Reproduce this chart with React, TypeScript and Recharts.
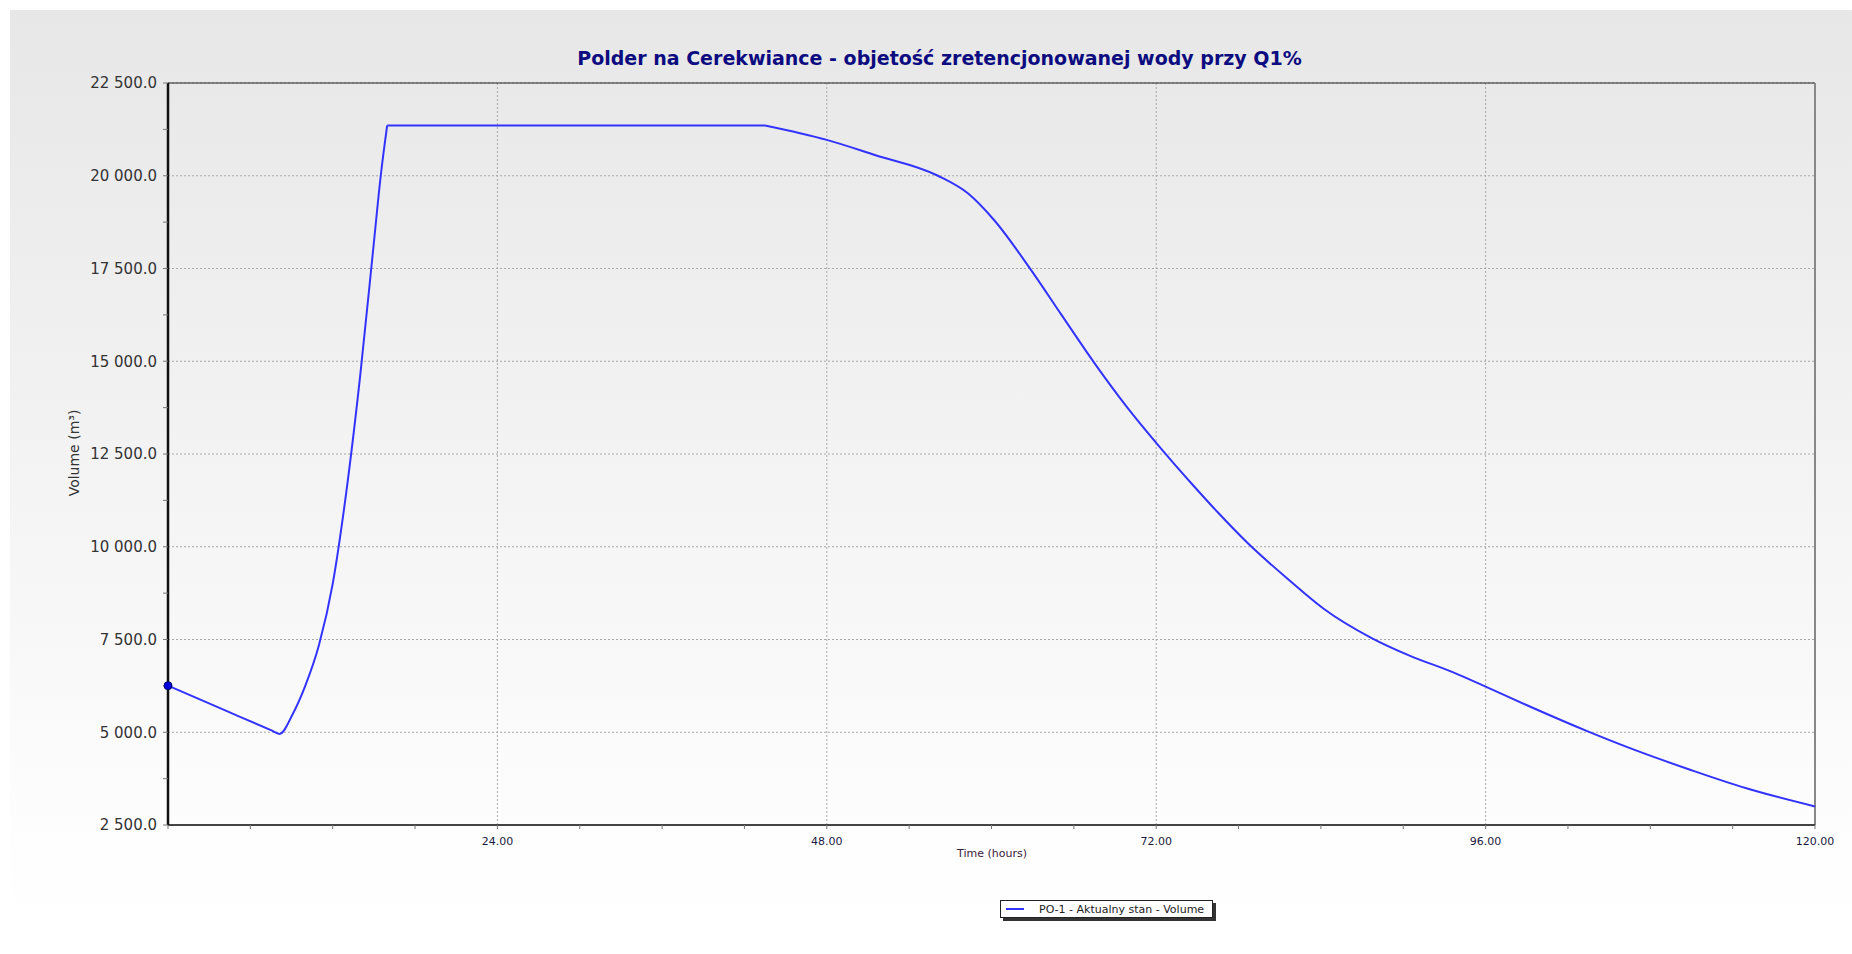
import React from 'react';
import { LineChart, Line, XAxis, YAxis, CartesianGrid, ReferenceLine } from 'recharts';

// czas symulacji [h]
const hours = [
  0, 4, 7.5, 8.13, 9.1, 10, 11, 12, 13, 14, 15, 15.5, 15.97,
  43.5, 48, 51.5, 56.1, 58.3, 60.2, 62.9, 65.1, 67.5, 69.9, 72, 74.8, 76.5,
  78.7, 81.7, 84.2, 87.7, 90.5, 93.6, 96, 99.3, 103.4, 107.1, 110.9, 115, 120,
];

// objetosc [m3]
const volume = [
  6256, 5616, 5056, 4955, 5500, 6250, 7350, 9000, 11500, 14600, 18200, 20000, 21355,
  21355, 20966, 20560, 20000, 19520, 18800, 17450, 16250, 14950, 13750, 12800, 11610, 10922,
  10086, 9096, 8330, 7540, 7060, 6620, 6230, 5680, 5030, 4490, 3990, 3490, 3000,
];

// poczatek i koniec przelewu (plaskiego odcinka)
const plateauStart = 15.97;
const plateauEnd = 43.5;

const xTicks = [0, 6, 12, 18, 24, 30, 36, 42, 48, 54, 60, 66, 72, 78, 84, 90, 96, 102, 108, 114, 120];
const xLabels = [24, 48, 72, 96, 120];
const yTicks = [
  2500, 3750, 5000, 6250, 7500, 8750, 10000, 11250, 12500, 13750, 15000,
  16250, 17500, 18750, 20000, 21250, 22500,
];
const yLabels = [2500, 5000, 7500, 10000, 12500, 15000, 17500, 20000, 22500];

// trzy odcinki tej samej serii, zeby zachowac ostre zalamania
const data = hours.map((h, i) => ({
  h,
  a: h <= plateauStart ? volume[i] : null,
  b: h >= plateauStart && h <= plateauEnd ? volume[i] : null,
  c: h >= plateauEnd ? volume[i] : null,
}));

const fmtY = (v: number) => {
  if (!yLabels.includes(v)) return '';
  const th = Math.floor(v / 1000);
  const rest = (v % 1000).toFixed(1).padStart(5, '0');
  return `${th} ${rest}`;
};

const fmtX = (v: number) => (xLabels.includes(v) ? v.toFixed(2) : '');

const font = '"DejaVu Sans", Verdana, sans-serif';
const lineColor = '#3333ff';

export default function App() {
  return (
    <div style={{ position: 'absolute', left: 0, top: 0, width: 1852, height: 954, background: '#fff', fontFamily: font }}>
      <div
        style={{
          position: 'absolute',
          left: 10,
          top: 10,
          width: 1842,
          height: 925,
          background: 'linear-gradient(#e7e7e7 0%, #f6f6f6 60%, #fefefe 92%, #ffffff 100%)',
        }}
      />
      <div
        style={{
          position: 'absolute',
          left: 0,
          width: 1879,
          top: 47,
          textAlign: 'center',
          fontSize: 19,
          fontWeight: 'bold',
          color: '#0c0c80',
        }}
      >
        Polder na Cerekwiance - objetość zretencjonowanej wody przy Q1%
      </div>
      <div
        style={{
          position: 'absolute',
          left: 74,
          top: 453,
          transform: 'translate(-50%, -50%) rotate(-90deg)',
          fontSize: 14,
          color: '#333',
          whiteSpace: 'nowrap',
        }}
      >
        Volume (m³)
      </div>
      <div
        style={{
          position: 'absolute',
          left: 992,
          top: 853,
          transform: 'translate(-50%, -50%)',
          fontSize: 11,
          color: '#3a1a3a',
          whiteSpace: 'nowrap',
        }}
      >
        Time (hours)
      </div>
      <div
        style={{
          position: 'absolute',
          left: 1000,
          top: 900,
          width: 211,
          height: 16,
          background: '#fff',
          border: '1px solid #222',
          boxShadow: '3px 3px 0 #333',
          fontSize: 11,
          color: '#222',
          display: 'flex',
          alignItems: 'center',
          whiteSpace: 'nowrap',
        }}
      >
        <div style={{ width: 18, height: 2, background: lineColor, marginLeft: 5, marginRight: 15 }} />
        PO-1 - Aktualny stan - Volume
      </div>
      <div style={{ position: 'absolute', left: 0, top: 0 }}>
        <LineChart width={1852} height={954} data={data} margin={{ top: 83, right: 37, left: 10, bottom: 89 }}>
          <CartesianGrid
            stroke="#a8a8a8"
            strokeDasharray="2 2"
            horizontalValues={yLabels}
            verticalValues={[24, 48, 72, 96]}
          />
          <XAxis
            dataKey="h"
            type="number"
            domain={[0, 120]}
            ticks={xTicks}
            interval={0}
            tickFormatter={fmtX}
            height={40}
            tickSize={4}
            tickMargin={8}
            axisLine={{ stroke: '#444', strokeWidth: 2 }}
            tickLine={{ stroke: '#777' }}
            tick={{ fill: '#1a1a40', fontSize: 11, fontFamily: font }}
          />
          <YAxis
            type="number"
            domain={[2500, 22500]}
            ticks={yTicks}
            interval={0}
            tickFormatter={fmtY}
            width={158}
            tickSize={5}
            tickMargin={6}
            axisLine={{ stroke: '#111', strokeWidth: 2.5 }}
            tickLine={{ stroke: '#777' }}
            tick={{ fill: '#333', fontSize: 15, fontFamily: font }}
          />
          <ReferenceLine y={22500} stroke="#222" strokeWidth={1} />
          <ReferenceLine x={120} stroke="#888" strokeWidth={2} />
          <Line
            type="monotone"
            dataKey="a"
            stroke={lineColor}
            strokeWidth={2}
            isAnimationActive={false}
            dot={(p: any) =>
              p.index === 0 ? (
                <circle key="d0" cx={p.cx} cy={p.cy} r={4} fill="#0000dd" stroke="#000066" strokeWidth={1} />
              ) : (
                <g key={`d${p.index}`} />
              )
            }
          />
          <Line type="linear" dataKey="b" stroke={lineColor} strokeWidth={2} dot={false} isAnimationActive={false} />
          <Line type="monotone" dataKey="c" stroke={lineColor} strokeWidth={2} dot={false} isAnimationActive={false} />
        </LineChart>
      </div>
    </div>
  );
}
